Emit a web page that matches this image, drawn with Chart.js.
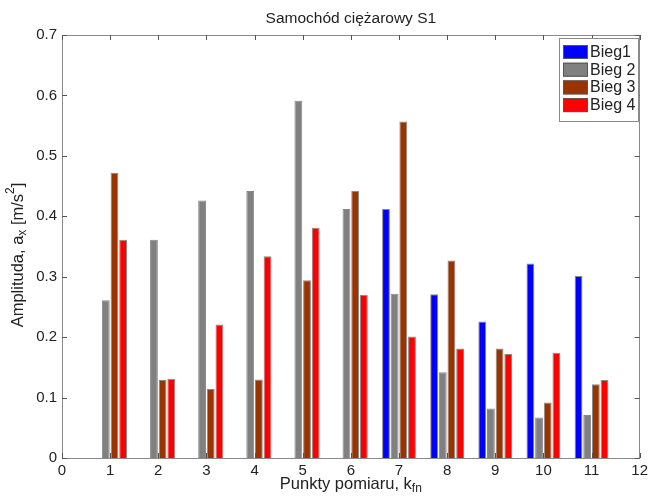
<!DOCTYPE html>
<html>
<head>
<meta charset="utf-8">
<script src="https://cdn.jsdelivr.net/npm/chart.js@4.4.1/dist/chart.umd.min.js"></script>
<style>
  html, body { margin: 0; padding: 0; background: #fff; }
  canvas { display: block; }
</style>
</head>
<body>
<canvas id="chart" width="652" height="497"></canvas>
<script>
const punkty = ['0', '1', '2', '3', '4', '5', '6', '7', '8', '9', '10', '11', '12'];
const bieg1 = [null, null, null, null, null, null, null, 0.412, 0.271, 0.226, 0.322, 0.301, null];
const bieg2 = [null, 0.261, 0.361, 0.426, 0.442, 0.591, 0.412, 0.272, 0.142, 0.082, 0.067, 0.071, null];
const bieg3 = [null, 0.472, 0.129, 0.114, 0.130, 0.294, 0.442, 0.557, 0.327, 0.181, 0.092, 0.122, null];
const bieg4 = [null, 0.361, 0.131, 0.221, 0.334, 0.381, 0.270, 0.201, 0.181, 0.172, 0.174, 0.129, null];
const yTicks = [0, 0.1, 0.2, 0.3, 0.4, 0.5, 0.6, 0.7];

const FONT = '"Liberation Sans", Arial, Helvetica, sans-serif';

// text with sub/superscripts, parts = [[text, size, dy], ...]
function richText(ctx, parts, x, y) {
  let w = 0;
  parts.forEach(p => {
    ctx.font = p[1] + 'px ' + FONT;
    w += ctx.measureText(p[0]).width;
  });
  let cx = x - w / 2;
  ctx.textAlign = 'left';
  ctx.textBaseline = 'middle';
  parts.forEach(p => {
    ctx.font = p[1] + 'px ' + FONT;
    ctx.fillText(p[0], cx, y + p[2]);
    cx += ctx.measureText(p[0]).width;
  });
}

const matlabLook = {
  id: 'matlabLook',
  beforeDraw(chart) {
    const ctx = chart.ctx;
    ctx.save();
    ctx.fillStyle = '#fff';
    ctx.fillRect(0, 0, chart.width, chart.height);
    ctx.restore();
  },
  afterDraw(chart) {
    const {ctx, chartArea: a, scales} = chart;
    ctx.save();

    // box
    ctx.strokeStyle = '#8a8a8a';
    ctx.lineWidth = 1;
    ctx.strokeRect(Math.round(a.left) + 0.5, Math.round(a.top) + 0.5,
      Math.round(a.right - a.left) - 1, Math.round(a.bottom - a.top));

    // inward ticks
    ctx.strokeStyle = '#555';
    ctx.beginPath();
    scales.x.ticks.forEach((t, i) => {
      const px = Math.round(scales.x.getPixelForTick(i)) + 0.5;
      ctx.moveTo(px, a.bottom); ctx.lineTo(px, a.bottom - 5);
      ctx.moveTo(px, a.top); ctx.lineTo(px, a.top + 5);
    });
    scales.y.ticks.forEach(t => {
      const py = Math.round(scales.y.getPixelForValue(t.value)) + 0.5;
      ctx.moveTo(a.left, py); ctx.lineTo(a.left + 5, py);
      ctx.moveTo(a.right, py); ctx.lineTo(a.right - 5, py);
    });
    ctx.stroke();

    ctx.fillStyle = '#222';
    // title
    richText(ctx, [['Samochód ciężarowy S1', 15.5, 0]], (a.left + a.right) / 2, 19);
    // x title
    richText(ctx, [['Punkty pomiaru, k', 16.5, 0], ['fn', 12, 5]], (a.left + a.right) / 2, 484);
    // y title
    ctx.save();
    ctx.translate(18, 255);
    ctx.rotate(-Math.PI / 2);
    richText(ctx, [['Amplituda, a', 16.5, 0], ['x', 12, 5], [' [m/s', 16.5, 0], ['2', 12, -7], [']', 16.5, 0]], 0, 0);
    ctx.restore();

    // legend
    const lx = 559, ly = 38, lw = 79, lh = 83;
    ctx.fillStyle = '#fff';
    ctx.fillRect(lx, ly, lw, lh);
    ctx.strokeStyle = '#8a8a8a';
    ctx.strokeRect(lx + 0.5, ly + 0.5, lw, lh);
    chart.data.datasets.forEach((ds, i) => {
      const sy = 45 + i * 17.7;
      ctx.fillStyle = ds.backgroundColor;
      ctx.fillRect(563, sy, 25, 14);
      ctx.strokeStyle = '#555';
      ctx.strokeRect(563.5, sy + 0.5, 24, 13);
      ctx.fillStyle = '#222';
      ctx.font = '16px ' + FONT;
      ctx.textAlign = 'left';
      ctx.textBaseline = 'middle';
      ctx.fillText(ds.label, 590, sy + 7.5);
    });
    ctx.restore();
  }
};

const barStyle = {
  borderWidth: 1,
  borderColor: 'rgba(40,40,40,0.55)',
  categoryPercentage: 0.72,
  barPercentage: 0.9
};

new Chart(document.getElementById('chart'), {
  type: 'bar',
  data: {
    labels: punkty,
    datasets: [
      {label: 'Bieg1', data: bieg1, backgroundColor: '#0000ff', ...barStyle},
      {label: 'Bieg 2', data: bieg2, backgroundColor: '#808080', ...barStyle},
      {label: 'Bieg 3', data: bieg3, backgroundColor: '#993300', ...barStyle},
      {label: 'Bieg 4', data: bieg4, backgroundColor: '#ff0000', ...barStyle}
    ]
  },
  options: {
    responsive: false,
    animation: false,
    devicePixelRatio: 1,
    layout: {padding: {top: 35, right: 9, bottom: 0, left: 0}},
    scales: {
      x: {
        type: 'category',
        offset: false,
        grid: {display: false, drawTicks: false},
        border: {display: false},
        ticks: {
          autoSkip: false,
          maxRotation: 0,
          padding: 4,
          color: '#222',
          font: {family: FONT, size: 15}
        },
        afterFit: (s) => { s.height = 39; }
      },
      y: {
        min: 0,
        max: 0.7,
        grid: {display: false, drawTicks: false},
        border: {display: false},
        afterBuildTicks: (s) => { s.ticks = yTicks.map(v => ({value: v})); },
        ticks: {
          padding: 5,
          color: '#222',
          font: {family: FONT, size: 15},
          callback: (v) => v === 0 ? '0' : (Math.round(v * 10) / 10).toFixed(1)
        },
        afterFit: (s) => { s.width = 62; }
      }
    },
    plugins: {
      legend: {display: false},
      title: {display: false},
      tooltip: {enabled: false}
    }
  },
  plugins: [matlabLook]
});
</script>
</body>
</html>
